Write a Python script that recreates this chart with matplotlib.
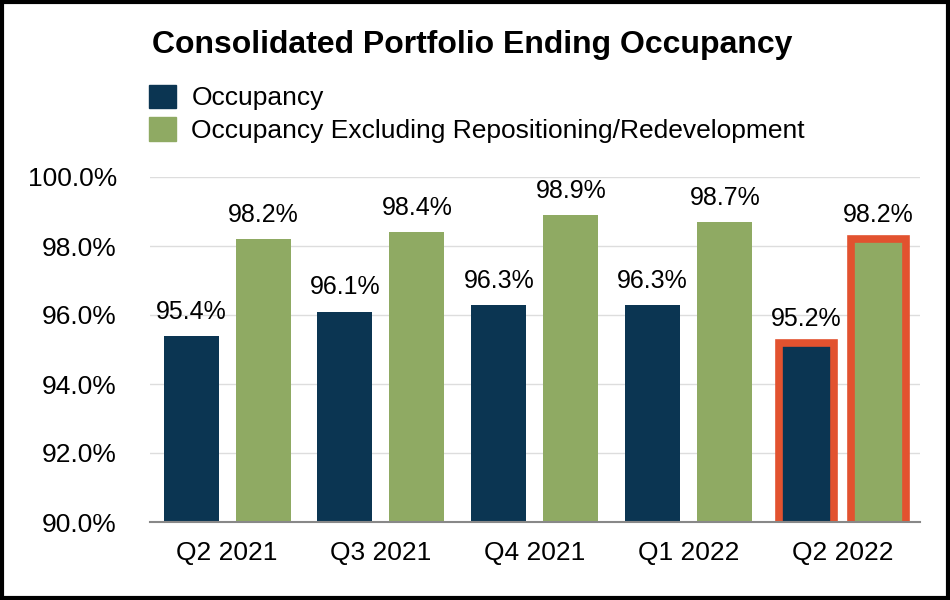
import numpy as np
import matplotlib.pyplot as plt
from matplotlib.patches import Rectangle

quarters = ['Q2 2021', 'Q3 2021', 'Q4 2021', 'Q1 2022', 'Q2 2022']
occupancy = [95.4, 96.1, 96.3, 96.3, 95.2]
occupancy_excl = [98.2, 98.4, 98.9, 98.7, 98.2]
yticks = [90, 92, 94, 96, 98, 100]

navy = '#0B3552'
green = '#8FAA63'
red = '#E2522F'

plt.rcParams['font.family'] = ['Liberation Sans', 'DejaVu Sans']

fig = plt.figure(figsize=(9.5, 6), dpi=100)
ax = fig.add_axes([0.158, 0.13, 0.81, 0.575])

x = np.arange(len(quarters))
w = 0.357
off = 0.234

# only the latest quarter gets the red outline
edge = ['none'] * (len(quarters) - 1) + [red]
lw = [0] * (len(quarters) - 1) + [5.5]
ax.bar(x - off, occupancy, w, color=navy, edgecolor=edge, linewidth=lw, zorder=3)
ax.bar(x + off, occupancy_excl, w, color=green, edgecolor=edge, linewidth=lw, zorder=3)

for xi, v in zip(x - off, occupancy):
    ax.text(xi, v + 0.35, f'{v:.1f}%', ha='center', va='bottom', fontsize=18, clip_on=False)
for xi, v in zip(x + off, occupancy_excl):
    ax.text(xi, v + 0.35, f'{v:.1f}%', ha='center', va='bottom', fontsize=18, clip_on=False)

ax.set_ylim(90, 100)
ax.set_xlim(-0.5, 4.5)
ax.set_yticks(yticks)
ax.set_yticklabels([f'{t:.1f}%' for t in yticks], fontsize=19)
ax.set_xticks(x)
ax.set_xticklabels(quarters, fontsize=19)
ax.tick_params(axis='x', length=0, pad=14)
ax.tick_params(axis='y', length=0, pad=24)
ax.grid(axis='y', color='#DDDDDD', linewidth=1, zorder=0)
for s in ['top', 'right', 'left']:
    ax.spines[s].set_visible(False)
ax.spines['bottom'].set_color('#888888')
ax.spines['bottom'].set_linewidth(1.5)
ax.spines['bottom'].set_zorder(4)

fig.text(0.497, 0.925, 'Consolidated Portfolio Ending Occupancy', ha='center', va='center',
         fontsize=23, fontweight='bold')

handles = [Rectangle((0, 0), 1, 1, color=navy), Rectangle((0, 0), 1, 1, color=green)]
fig.legend(handles, ['Occupancy', 'Occupancy Excluding Repositioning/Redevelopment'],
           loc='upper left', bbox_to_anchor=(0.157, 0.859), frameon=False, fontsize=19,
           handlelength=1.0, handleheight=1.0, handletextpad=0.6, labelspacing=0.25,
           borderpad=0, borderaxespad=0)

fig.add_artist(Rectangle((0.002, 0.003), 0.996, 0.994, transform=fig.transFigure,
                         fill=False, edgecolor='black', linewidth=3))

fig.savefig('out.png', dpi=100)
